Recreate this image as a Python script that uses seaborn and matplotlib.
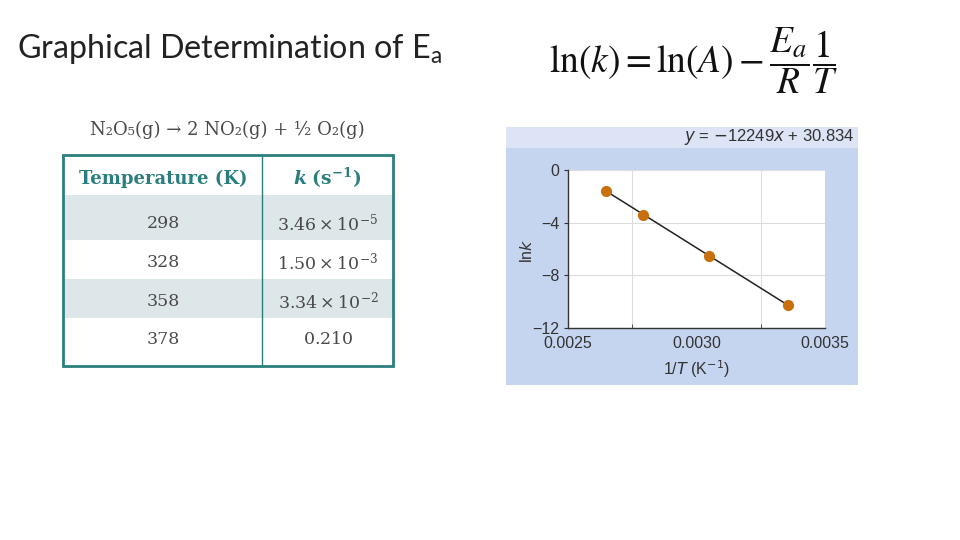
import matplotlib
matplotlib.use("Agg")
import matplotlib.pyplot as plt
from matplotlib.patches import Rectangle
import numpy as np
import pandas as pd
import seaborn as sns

# ---- data ----
temps_K = ["298", "328", "358", "378"]
k_labels = [r"$3.46 \times 10^{-5}$", r"$1.50 \times 10^{-3}$",
            r"$3.34 \times 10^{-2}$", r"$0.210$"]
inv_T = [0.003356, 0.003049, 0.002793, 0.002646]
ln_k = [-10.27, -6.50, -3.40, -1.56]
fit_label = r"$y$ = $-$12249$x$ + 30.834"
x_ticks = [0.0025, 0.0030, 0.0035]
x_tick_labels = ["0.0025", "0.0030", "0.0035"]
x_grid = [0.00275, 0.00325]
y_ticks = [0, -4, -8, -12]
y_tick_labels = ["0", "\u22124", "\u22128", "\u221212"]

sns.set_style("white")
W, H = 960, 540
fig = plt.figure(figsize=(9.6, 5.4), dpi=100)
fig.patch.set_facecolor("white")

def fx(x):
    return x / W

def fy(y):
    return 1 - y / H

# ---- title & equation ----
fig.text(fx(17), fy(49), r"Graphical Determination of E$_{\mathregular{a}}$",
         fontsize=23.2, family="Lato", fontweight="normal", color="#222222",
         va="center", ha="left")
fig.text(fx(694), fy(61), r"$\ln(k) = \ln(A) - \dfrac{E_a}{R}\dfrac{1}{T}$",
         fontsize=27, math_fontfamily="stix", color="#111111",
         va="center", ha="center")

# ---- table ----
tab = fig.add_axes([fx(55), fy(375), fx(345), (375 - 115) / H])
tab.set_xlim(55, 400)
tab.set_ylim(375, 115)
tab.axis("off")
teal = "#2b7e7e"
shade = "#dde6e9"
txt = "#4a4a4a"
tab.text(227, 130, "N\u2082O\u2085(g) \u2192 2 NO\u2082(g) + \u00bd O\u2082(g)",
         family="DejaVu Serif", fontsize=13, color=txt, ha="center", va="center")
rows_y = [(195, 240), (240, 279), (279, 318), (318, 366)]
text_y = [223, 262, 301, 339]
for i, (y0, y1) in enumerate(rows_y):
    if i % 2 == 0:
        tab.add_patch(Rectangle((63, y0), 330, y1 - y0, facecolor=shade,
                                edgecolor="none", zorder=1))
    yc = text_y[i]
    tab.text(163, yc, temps_K[i], family="DejaVu Serif", fontsize=12.5,
             color=txt, ha="center", va="center", zorder=3)
    tab.text(328, yc, k_labels[i], math_fontfamily="dejavuserif", fontsize=12.5,
             color=txt, ha="center", va="center", zorder=3)
tab.add_patch(Rectangle((63, 155), 330, 211, facecolor="none", edgecolor=teal,
                        linewidth=2, zorder=4))
tab.plot([262, 262], [155, 366], color=teal, linewidth=1, zorder=4)
tab.text(163, 179, "Temperature (K)", family="DejaVu Serif", fontweight="bold",
         fontsize=13, color=teal, ha="center", va="center")
tab.text(327, 178, r"$\mathbfit{k}\ \mathbf{(s^{-1})}$", math_fontfamily="dejavuserif",
         fontsize=13.5, color=teal, ha="center", va="center")

# ---- chart panel background ----
fig.patches.append(Rectangle((fx(506), fy(385)), fx(858 - 506), (385 - 148) / H,
                             transform=fig.transFigure, facecolor="#c5d5f0",
                             edgecolor="none", zorder=-2))
fig.patches.append(Rectangle((fx(506), fy(148)), fx(858 - 506), (148 - 127) / H,
                             transform=fig.transFigure, facecolor="#dce4f5",
                             edgecolor="none", zorder=-2))
fig.text(fx(855), fy(137), fit_label, fontsize=12, color="#333333",
         family="Liberation Sans", math_fontfamily="dejavusans",
         ha="right", va="center")

ax = fig.add_axes([fx(568), fy(328), fx(825 - 568), (328 - 170) / H])
ax.set_zorder(3)
ax.set_facecolor("white")
df = pd.DataFrame({"inv_T": inv_T, "ln_k": ln_k})
sns.regplot(data=df, x="inv_T", y="ln_k", ax=ax, ci=None, truncate=True,
            scatter_kws=dict(s=65, color="#c8700e", zorder=5, linewidths=0, alpha=1),
            line_kws=dict(color="#222222", linewidth=1.1, zorder=4))
ax.set_xlim(0.0025, 0.0035)
ax.set_ylim(-12, 0)
ax.set_xticks(x_ticks)
ax.set_xticklabels(x_tick_labels)
ax.set_xticks(x_grid, minor=True)
ax.set_yticks(y_ticks)
ax.set_yticklabels(y_tick_labels)
ax.grid(False)
ax.grid(True, axis="y", which="major", color="#dddddd", linewidth=0.8)
ax.grid(True, axis="x", which="minor", color="#dddddd", linewidth=0.8)
for s in ["top", "right"]:
    ax.spines[s].set_visible(False)
for s in ["left", "bottom"]:
    ax.spines[s].set_visible(True)
    ax.spines[s].set_color("#333333")
    ax.spines[s].set_linewidth(1.0)
ax.tick_params(axis="x", which="major", length=0, pad=6, labelsize=11.5,
               labelcolor="#333333")
ax.tick_params(axis="x", which="minor", length=3, direction="in", color="#333333",
               bottom=True)
ax.tick_params(axis="y", which="major", length=3, direction="out", color="#333333",
               left=True, pad=3, labelsize=11.5, labelcolor="#333333")
for lab in ax.get_xticklabels() + ax.get_yticklabels():
    lab.set_family("Liberation Sans")
ax.set_xlabel(r"1/$\mathit{T}$ (K$^{-1}$)", fontsize=11.5, color="#333333",
              family="Liberation Sans", labelpad=5)
ax.set_ylabel(r"ln$\mathit{k}$", fontsize=11.5, color="#333333",
              family="Liberation Sans")
ax.yaxis.set_label_coords(-0.128, 0.49)

fig.savefig("out.png", dpi=100, facecolor="white")
